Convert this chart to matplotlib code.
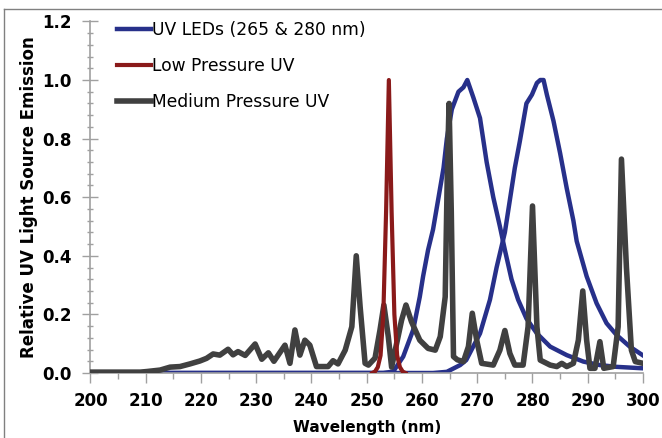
import matplotlib
matplotlib.use("Agg")
import matplotlib.pyplot as plt
from matplotlib.ticker import MultipleLocator, FormatStrFormatter
from matplotlib.lines import Line2D

# UV LED, 265 nm die (peak near 268)
led1_nm = [200, 253, 254.8, 256.6, 258.4, 259.6, 260.2, 261.1, 262.0, 263.0, 263.9, 264.5,
           265.4, 266.6, 267.5, 268.2, 269.3, 270.5, 271.7, 272.9, 274.1, 275.0, 276.2,
           277.4, 278.9, 280.8, 283.2, 286.2, 289.2, 292.2, 295.2, 300]
led1_val = [0.0, 0.0, 0.005, 0.056, 0.147, 0.26, 0.33, 0.42, 0.49, 0.6, 0.7, 0.8,
            0.9, 0.96, 0.975, 1.0, 0.94, 0.87, 0.72, 0.6, 0.5, 0.42, 0.32,
            0.25, 0.186, 0.135, 0.09, 0.061, 0.039, 0.027, 0.021, 0.016]

# UV LED, 280 nm die
led2_nm = [200, 262.0, 264.5, 266.9, 268.0, 270.5, 272.3, 273.5, 275.0, 275.9, 276.8,
           277.7, 278.9, 279.9, 280.8, 281.4, 282.0, 282.6, 283.8, 285.0, 286.2, 287.4,
           288.0, 289.8, 291.6, 293.4, 295.2, 297.6, 300]
led2_val = [0.0, 0.0, 0.004, 0.027, 0.044, 0.135, 0.25, 0.36, 0.48, 0.59, 0.7,
            0.79, 0.92, 0.95, 0.99, 1.0, 1.0, 0.95, 0.86, 0.75, 0.63, 0.52,
            0.45, 0.33, 0.238, 0.17, 0.13, 0.09, 0.06]

# low pressure mercury line at 254 nm
lp_nm = [251.0, 251.5, 252.0, 252.5, 253.0, 253.5, 254.0, 254.5, 255.0, 255.5, 256.0, 256.5, 257.0]
lp_val = [0.0, 0.005, 0.02, 0.06, 0.2, 0.55, 1.0, 0.55, 0.2, 0.06, 0.02, 0.005, 0.0]

# medium pressure mercury spectrum
mp_nm = [200, 209.0, 210.2, 212.6, 214.4, 216.2, 218.0, 219.8, 221.0, 222.2, 223.4, 224.9,
         225.8, 226.7, 228.0, 229.8, 231.0, 232.2, 233.2, 235.2, 236.1, 237.0, 237.9,
         238.8, 239.7, 240.9, 243.0, 243.9, 244.8, 246.1, 247.3, 248.1, 248.8, 249.7,
         250.3, 251.5, 252.4, 253.1, 253.9, 254.5, 255.4, 256.3, 257.1, 258.1, 259.6,
         261.1, 262.4, 263.3, 264.2, 264.6, 264.9, 265.3, 265.7, 266.4, 267.5, 268.4,
         269.1, 269.9, 270.8, 272.9, 274.1, 275.0, 275.9, 276.8, 278.3, 279.2, 280.0,
         280.8, 281.4, 283.2, 284.4, 285.3, 286.2, 287.4, 288.3, 289.1, 289.8, 290.4,
         291.3, 292.2, 292.9, 294.6, 295.5, 296.1, 297.0, 297.9, 298.6, 300]
mp_val = [0.003, 0.003, 0.005, 0.01, 0.02, 0.022, 0.031, 0.041, 0.05, 0.065, 0.061, 0.081,
          0.062, 0.073, 0.06, 0.099, 0.047, 0.069, 0.04, 0.095, 0.033, 0.147, 0.061,
          0.112, 0.095, 0.022, 0.022, 0.042, 0.031, 0.078, 0.158, 0.40, 0.226, 0.033,
          0.027, 0.051, 0.147, 0.232, 0.124, 0.02, 0.10, 0.18, 0.232, 0.175, 0.112,
          0.084, 0.078, 0.124, 0.26, 0.70, 0.92, 0.55, 0.056, 0.045, 0.039, 0.09,
          0.204, 0.112, 0.033, 0.027, 0.078, 0.145, 0.067, 0.027, 0.027, 0.158, 0.57,
          0.158, 0.044, 0.027, 0.022, 0.033, 0.022, 0.033, 0.112, 0.28, 0.112, 0.016,
          0.016, 0.107, 0.016, 0.022, 0.158, 0.73, 0.36, 0.078, 0.039, 0.033]

led_color = "#27308a"
lp_color = "#8a1a1a"
mp_color = "#404040"
axis_gray = "#a0a0a0"

fig = plt.figure(figsize=(6.62, 4.38), dpi=100)
ax = fig.add_axes([0.1367, 0.1484, 0.8346, 0.8027])

ax.plot(led1_nm, led1_val, color=led_color, lw=3.2, label="UV LEDs (265 & 280 nm)",
        zorder=2, solid_joinstyle="round")
ax.plot(led2_nm, led2_val, color=led_color, lw=3.2, zorder=2, solid_joinstyle="round")
ax.plot(lp_nm, lp_val, color=lp_color, lw=3, label="Low Pressure UV", zorder=4)
ax.plot(mp_nm, mp_val, color=mp_color, lw=4, label="Medium Pressure UV", zorder=3)

ax.set_xlim(200, 300)
ax.set_ylim(0, 1.2)
ax.xaxis.set_major_locator(MultipleLocator(10))
ax.xaxis.set_minor_locator(MultipleLocator(5))
ax.yaxis.set_major_locator(MultipleLocator(0.2))
ax.yaxis.set_minor_locator(MultipleLocator(0.04))
ax.yaxis.set_major_formatter(FormatStrFormatter("%.1f"))

for s in ["top", "right"]:
    ax.spines[s].set_visible(False)
for s in ["left", "bottom"]:
    ax.spines[s].set_color(axis_gray)
    ax.spines[s].set_linewidth(1.2)

ax.tick_params(axis="y", which="major", direction="inout", length=11, width=1, color=axis_gray, pad=8)
ax.tick_params(axis="y", which="minor", direction="inout", length=4, width=1, color=axis_gray)
ax.tick_params(axis="x", which="major", direction="out", length=7, width=1, color=axis_gray, pad=7)
ax.tick_params(axis="x", which="minor", direction="out", length=4, width=1, color=axis_gray)
for lab in ax.get_xticklabels() + ax.get_yticklabels():
    lab.set_fontsize(12)
    lab.set_fontweight("bold")

ax.set_xlabel("Wavelength (nm)", fontsize=11, fontweight="bold", labelpad=7)
ax.set_ylabel("Relative UV Light Source Emission", fontsize=12, fontweight="bold", labelpad=3)

ax.legend(loc="upper left", bbox_to_anchor=(0.048, 1.0), frameon=False, fontsize=12.3,
          handlelength=2.0, handletextpad=0.05, labelspacing=1.05,
          borderaxespad=0, borderpad=0)

# page frame around the figure
fig.add_artist(Line2D([4 / 662, 4 / 662], [0, 1 - 9 / 438], transform=fig.transFigure, color="#808080", lw=1))
fig.add_artist(Line2D([4 / 662, 1], [1 - 9 / 438, 1 - 9 / 438], transform=fig.transFigure, color="#808080", lw=1))

fig.savefig("out.png", dpi=100)
